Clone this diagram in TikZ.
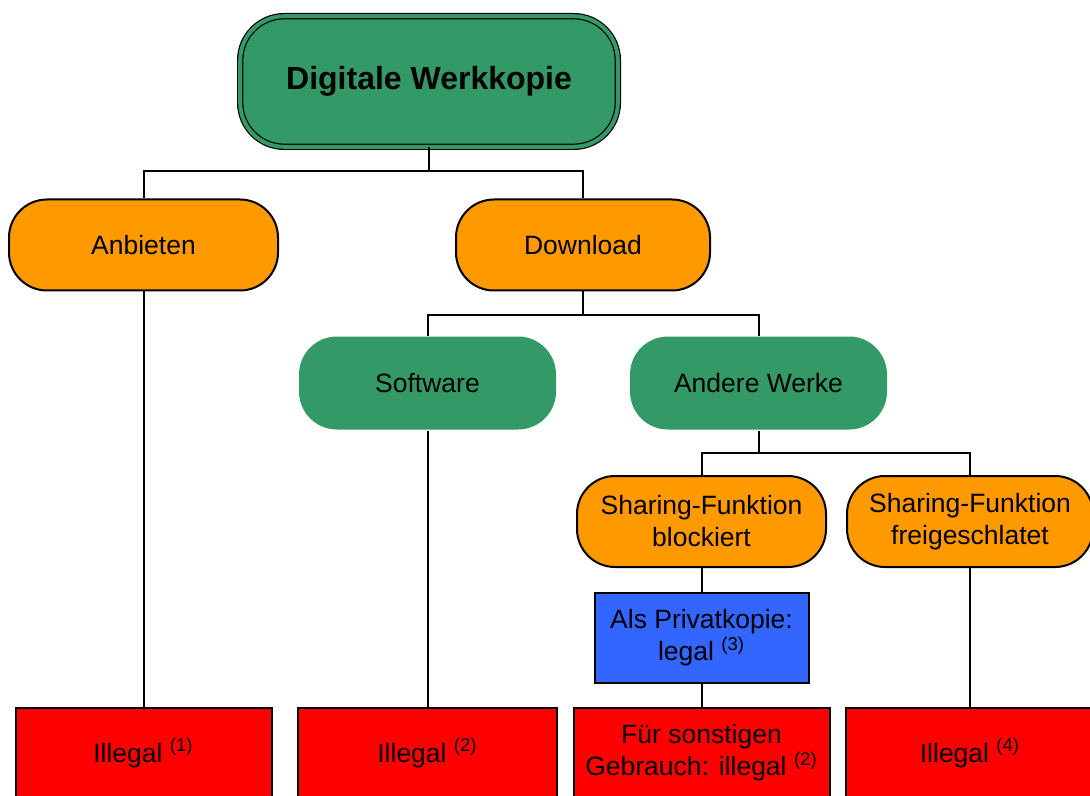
\documentclass[tikz,border=0pt]{standalone}
\usepackage{fontspec}
\setmainfont{Liberation Sans}
\usetikzlibrary{positioning}

\definecolor{gruen}{RGB}{51,153,102}
\definecolor{orangeb}{RGB}{255,153,0}
\definecolor{rotb}{RGB}{255,0,0}
\definecolor{blaub}{RGB}{51,102,255}

\tikzset{elbow/.style={to path={(\tikztostart.south) -- ++(0,-#1) -| (\tikztotarget.north)}},
	elbow/.default=12pt}

\begin{document}
\begin{tikzpicture}[on grid,line width=1pt,node font=\fontsize{13.25}{16}\selectfont]
	\tikzstyle{rund}=[draw,rounded corners=19pt,align=center,minimum height=45.5pt,inner sep=0pt]
	\tikzstyle{ast}=[rund,fill=orangeb]
	\tikzstyle{werk}=[rund,draw=none,fill=gruen,minimum height=46.5pt,minimum width=128.5pt]
	\tikzstyle{kasten}=[draw,fill=rotb,minimum height=45pt,minimum width=128pt,align=center,inner sep=0pt]
	
	\useasboundingbox (0,0) rectangle (545pt,-398pt);
	
	\node[rund,fill=gruen,double=gruen,double distance=2pt,line width=0.6pt,rounded corners=22pt,minimum width=188.8pt,minimum height=65.3pt,font=\bfseries\fontsize{16}{19}\selectfont] (DW) at (214.5pt,-40.75pt) {Digitale Werkkopie};
	\node[ast,minimum width=134.5pt] (AB) [below left=81.75pt and 142.75pt of DW] {Anbieten};
	\node[ast,minimum width=127pt]   (DL) [below right=81.75pt and 77pt of DW]    {Download};
	\node[werk] (SW) [below left=69pt and 77.75pt of DL]  {Software};
	\node[werk] (AW) [below right=69pt and 87.75pt of DL] {Andere Werke};
	\node[ast,minimum width=124.5pt] (SB) [below left=69.25pt and 28.5pt of AW]   {Sharing-Funktion\\blockiert};
	\node[ast,minimum width=123pt]   (SF) [below right=69.25pt and 105.75pt of AW] {Sharing-Funktion\\freigeschlatet};
	\node[kasten,fill=blaub,minimum width=107pt] (PK) [below=58.25pt of SB] {Als Privatkopie:\\legal \textsuperscript{(3)}};
	\node[kasten] (IL1) [below=254pt of AB]     {Illegal \textsuperscript{(1)}};
	\node[kasten,minimum width=129.5pt] (IL2) [below=185pt of SW] {Illegal \textsuperscript{(2)}};
	\node[kasten] (SG)  [below=57.5pt of PK]    {Für sonstigen\\Gebrauch: illegal \textsuperscript{(2)}};
	\node[kasten,minimum width=124.5pt] (IL4) [below=115.75pt of SF] {Illegal \textsuperscript{(4)}};
	
	\path
	(DW) edge[elbow] (AB)
	(DW) edge[elbow] (DL)
	(DL) edge[elbow=11.5pt] (SW)
	(DL) edge[elbow=11.5pt] (AW)
	(AW) edge[elbow=11.25pt] (SB)
	(AW) edge[elbow=11.25pt] (SF)
	(AB) edge (IL1)
	(SW) edge (IL2)
	(SB) edge (PK)
	(PK) edge (SG)
	(SF) edge (IL4);
\end{tikzpicture}
\end{document}
